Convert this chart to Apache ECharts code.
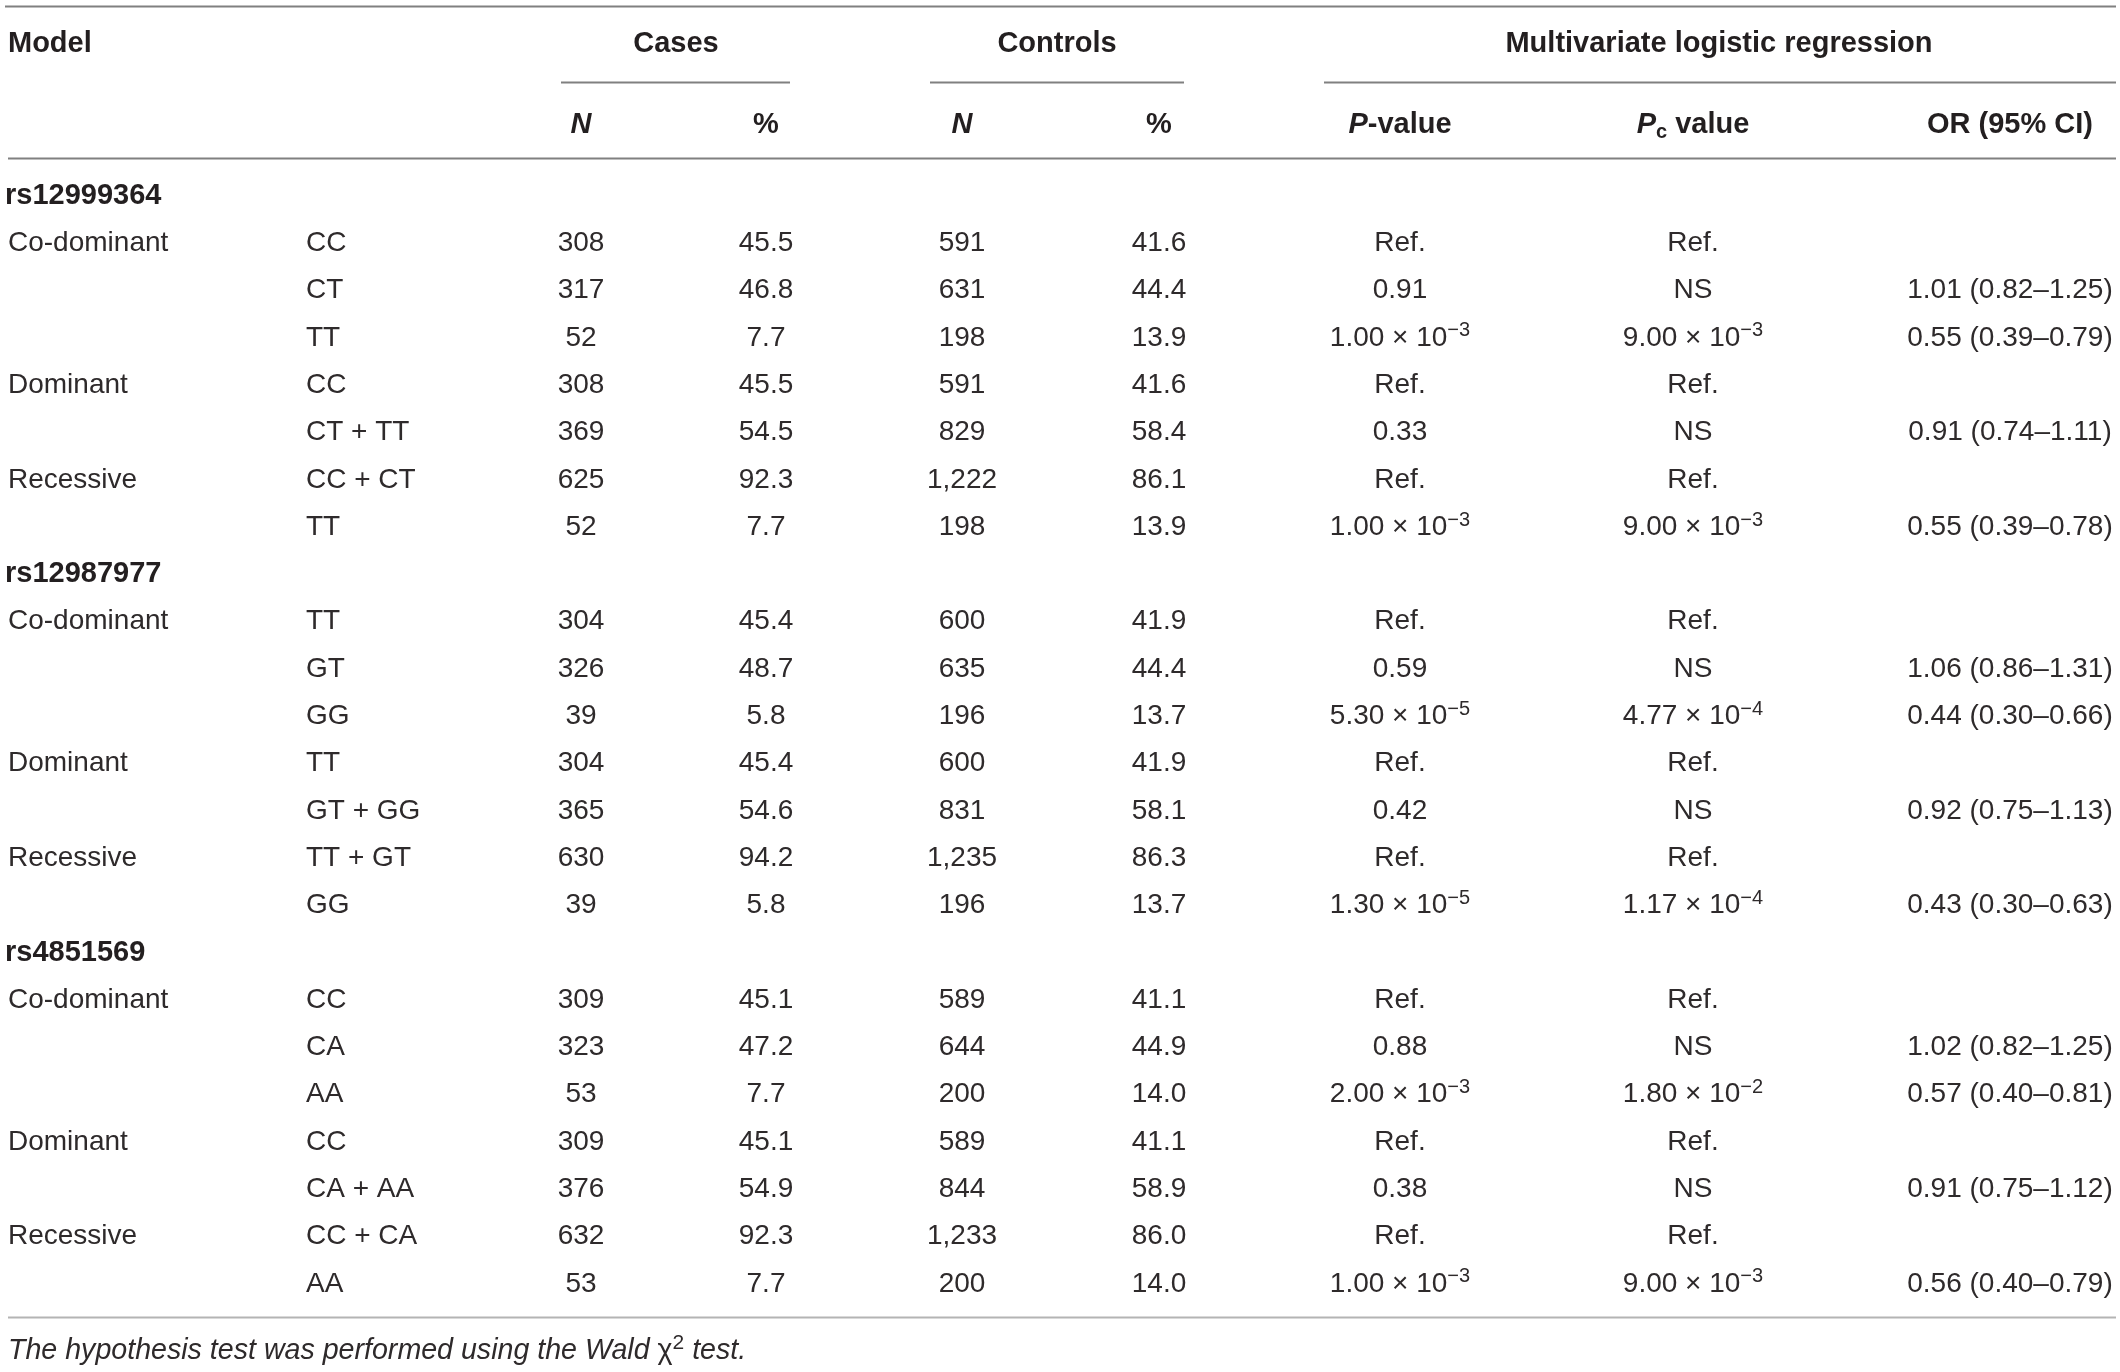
<!DOCTYPE html>
<html>
<head>
<meta charset="utf-8">
<script src="https://cdn.jsdelivr.net/npm/echarts@6/dist/echarts.min.js"></script>
<style>
  html, body { margin: 0; padding: 0; background: #fff; }
  #chart { width: 2120px; height: 1372px; }
</style>
</head>
<body>
<div id="chart"></div>
<script>
// ---- table data ----
var snps = ['rs12999364', 'rs12987977', 'rs4851569'];
var models = ['Co-dominant', '', '', 'Dominant', '', 'Recessive', ''];
var genotypes = [
  ['CC', 'CT', 'TT', 'CC', 'CT + TT', 'CC + CT', 'TT'],
  ['TT', 'GT', 'GG', 'TT', 'GT + GG', 'TT + GT', 'GG'],
  ['CC', 'CA', 'AA', 'CC', 'CA + AA', 'CC + CA', 'AA']
];
var casesN = [
  [308, 317, 52, 308, 369, 625, 52],
  [304, 326, 39, 304, 365, 630, 39],
  [309, 323, 53, 309, 376, 632, 53]
];
var casesPct = [
  [45.5, 46.8, 7.7, 45.5, 54.5, 92.3, 7.7],
  [45.4, 48.7, 5.8, 45.4, 54.6, 94.2, 5.8],
  [45.1, 47.2, 7.7, 45.1, 54.9, 92.3, 7.7]
];
var controlsN = [
  [591, 631, 198, 591, 829, 1222, 198],
  [600, 635, 196, 600, 831, 1235, 196],
  [589, 644, 200, 589, 844, 1233, 200]
];
var controlsPct = [
  [41.6, 44.4, 13.9, 41.6, 58.4, 86.1, 13.9],
  [41.9, 44.4, 13.7, 41.9, 58.1, 86.3, 13.7],
  [41.1, 44.9, 14.0, 41.1, 58.9, 86.0, 14.0]
];
var pValues = [
  ['Ref.', '0.91', '1.00e-3', 'Ref.', '0.33', 'Ref.', '1.00e-3'],
  ['Ref.', '0.59', '5.30e-5', 'Ref.', '0.42', 'Ref.', '1.30e-5'],
  ['Ref.', '0.88', '2.00e-3', 'Ref.', '0.38', 'Ref.', '1.00e-3']
];
var pcValues = [
  ['Ref.', 'NS', '9.00e-3', 'Ref.', 'NS', 'Ref.', '9.00e-3'],
  ['Ref.', 'NS', '4.77e-4', 'Ref.', 'NS', 'Ref.', '1.17e-4'],
  ['Ref.', 'NS', '1.80e-2', 'Ref.', 'NS', 'Ref.', '9.00e-3']
];
var orValues = [
  ['', '1.01 (0.82–1.25)', '0.55 (0.39–0.79)', '', '0.91 (0.74–1.11)', '', '0.55 (0.39–0.78)'],
  ['', '1.06 (0.86–1.31)', '0.44 (0.30–0.66)', '', '0.92 (0.75–1.13)', '', '0.43 (0.30–0.63)'],
  ['', '1.02 (0.82–1.25)', '0.57 (0.40–0.81)', '', '0.91 (0.75–1.12)', '', '0.56 (0.40–0.79)']
];
var footnote = 'The hypothesis test was performed using the Wald ';

// ---- layout (x in px along the x axis, y in row units) ----
var col = { snp: 5, model: 8, geno: 306, casesN: 581, casesPct: 766, ctrlN: 962, ctrlPct: 1159,
            p: 1400, pc: 1693, or: 2010, cases: 676, ctrl: 1057, multi: 1719 };
var rowY = { head1: -3.22, head2: -1.50, foot: 24.42 };
var rules = [
  { x1: 5, x2: 2116, y: -3.98, color: '#808080' },
  { x1: 561, x2: 790, y: -2.368, color: '#808080' },
  { x1: 930, x2: 1184, y: -2.368, color: '#808080' },
  { x1: 1324, x2: 2116, y: -2.368, color: '#808080' },
  { x1: 8, x2: 2116, y: -0.76, color: '#808080' },
  { x1: 8, x2: 2116, y: 23.75, color: '#b4b4b4' }
];

var FONT = '"Liberation Sans", Arial, Helvetica, sans-serif';
var INK = '#231f20';
var BODY = '#2e2a2b';
var rich = {
  t: { fontSize: 28, fontFamily: FONT, fill: BODY, lineHeight: 34 },
  sup: { fontSize: 20, fontFamily: FONT, fill: BODY, lineHeight: 20, verticalAlign: 'top' },
  b: { fontSize: 29, fontFamily: FONT, fontWeight: 'bold', fill: INK, lineHeight: 34 },
  bi: { fontSize: 29, fontFamily: FONT, fontWeight: 'bold', fontStyle: 'italic', fill: INK, lineHeight: 34 },
  sub: { fontSize: 20, fontFamily: FONT, fontWeight: 'bold', fill: INK, lineHeight: 20, verticalAlign: 'bottom' },
  i: { fontSize: 28.6, fontFamily: FONT, fontStyle: 'italic', fill: BODY, lineHeight: 36 },
  g: { fontSize: 28.6, fontFamily: FONT, fill: BODY, lineHeight: 36 },
  fsup: { fontSize: 21, fontFamily: FONT, fill: BODY, lineHeight: 21, verticalAlign: 'top' }
};

function sci(v) {
  var m = /^(.*)e(-?\d+)$/.exec(v);
  if (!m) return '{t|' + v + '}';
  return '{t|' + m[1] + ' × 10}{sup|' + m[2].replace('-', '−') + '}';
}
function num(v) { return '{t|' + v.toLocaleString('en-US') + '}'; }
function pct(v) { return '{t|' + v.toFixed(1) + '}'; }

// ---- cells ----
var cells = [];
function cell(x, y, text, align) { cells.push({ x: x, y: y, text: text, align: align || 'center' }); }

cell(col.model, rowY.head1, '{b|Model}', 'left');
cell(col.cases, rowY.head1, '{b|Cases}');
cell(col.ctrl, rowY.head1, '{b|Controls}');
cell(col.multi, rowY.head1, '{b|Multivariate logistic regression}');
cell(col.casesN, rowY.head2, '{bi|N}');
cell(col.casesPct, rowY.head2, '{b|%}');
cell(col.ctrlN, rowY.head2, '{bi|N}');
cell(col.ctrlPct, rowY.head2, '{b|%}');
cell(col.p, rowY.head2, '{bi|P}{b|-value}');
cell(col.pc, rowY.head2, '{bi|P}{sub|c}{b| value}');
cell(col.or, rowY.head2, '{b|OR (95% CI)}');

snps.forEach(function (snp, s) {
  var base = s * 8;
  cell(col.snp, base, '{b|' + snp + '}', 'left');
  models.forEach(function (m, r) {
    var y = base + 1 + r;
    if (m) cell(col.model, y, '{t|' + m + '}', 'left');
    cell(col.geno, y, '{t|' + genotypes[s][r] + '}', 'left');
    cell(col.casesN, y, num(casesN[s][r]));
    cell(col.casesPct, y, pct(casesPct[s][r]));
    cell(col.ctrlN, y, num(controlsN[s][r]));
    cell(col.ctrlPct, y, pct(controlsPct[s][r]));
    cell(col.p, y, sci(pValues[s][r]));
    cell(col.pc, y, sci(pcValues[s][r]));
    if (orValues[s][r]) cell(col.or, y, '{t|' + orValues[s][r] + '}');
  });
});
cell(col.model, rowY.foot, '{i|' + footnote + '}{g|χ}{fsup|2}{i| test.}', 'left');

var chart = echarts.init(document.getElementById('chart'), null, { renderer: 'canvas' });
chart.setOption({
  backgroundColor: '#ffffff',
  animation: false,
  grid: { left: 0, right: 0, top: 0, bottom: 0 },
  xAxis: { type: 'value', min: 0, max: 2120, show: false },
  yAxis: { type: 'value', inverse: true, min: -194 / 47.3, max: (1372 - 194) / 47.3, show: false },
  series: [
    {
      type: 'custom',
      name: 'rules',
      data: rules.map(function (r) { return [r.x1, r.y, r.x2]; }),
      renderItem: function (params, api) {
        var a = api.coord([api.value(0), api.value(1)]);
        var b = api.coord([api.value(2), api.value(1)]);
        var y = Math.round(a[1]) + 0.5;
        return {
          type: 'line',
          shape: { x1: a[0], y1: y, x2: b[0], y2: y },
          style: { stroke: rules[params.dataIndex].color, lineWidth: 2 }
        };
      }
    },
    {
      type: 'custom',
      name: 'cells',
      data: cells.map(function (c) { return [c.x, c.y]; }),
      renderItem: function (params, api) {
        var c = cells[params.dataIndex];
        var p = api.coord([api.value(0), api.value(1)]);
        return {
          type: 'text',
          x: p[0],
          y: p[1] + 2,
          style: {
            text: c.text,
            rich: rich,
            align: c.align,
            verticalAlign: 'middle',
            fill: BODY,
            font: '28px ' + FONT
          }
        };
      }
    }
  ]
});
</script>
</body>
</html>
